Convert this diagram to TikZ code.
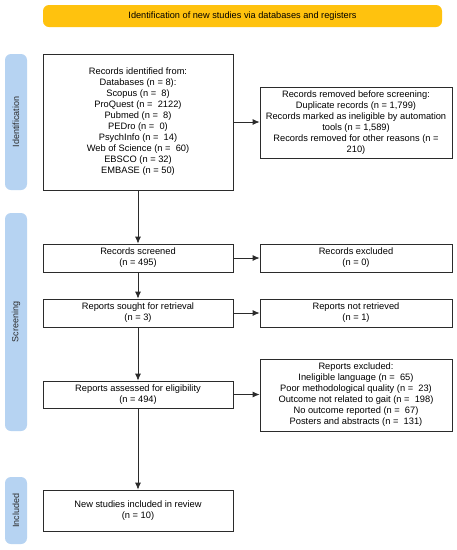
\documentclass[tikz,border=0pt]{standalone}
\usepackage{fontspec}
\setmainfont{Liberation Sans}
\usetikzlibrary{arrows.meta}
\definecolor{banner}{HTML}{FFC20E}
\definecolor{sidebar}{HTML}{B6D3F2}
\definecolor{ink}{HTML}{2B2B2B}
\begin{document}
\begin{tikzpicture}[x=1pt,y=-1pt,
  box/.style={draw=ink,line width=0.8pt,fill=white,rectangle,align=center,inner sep=2pt,
    font=\fontsize{9.3}{11}\selectfont,text=black},
  side/.style={fill=sidebar,rounded corners=6pt,rectangle,inner sep=0pt,minimum width=22pt,
    font=\fontsize{9}{10}\selectfont,text=ink},
  arr/.style={draw=ink,line width=0.8pt,-{Latex[length=7pt,width=6pt]}}]
\useasboundingbox (0,0) rectangle (457,550);
\fill[white] (0,0) rectangle (457,550);
% banner
\node[fill=banner,rounded corners=6pt,minimum width=399pt,minimum height=22pt,inner sep=0pt,
  font=\fontsize{9.2}{10}\selectfont] (ban) at (242.5,16) {Identification of new studies via databases and registers};
% side bars
\node[side,minimum height=136pt] (sid) at (16,122) {\rotatebox{90}{Identification}};
\node[side,minimum height=218pt] (sscr) at (16,322) {\rotatebox{90}{Screening}};
\node[side,minimum height=67pt] (sinc) at (16,510.5) {\rotatebox{90}{Included}};
% left column
\node[box,minimum width=190pt,minimum height=136pt] (rec) at (138,122) {Records identified from:\\Databases (n = 8):\\Scopus (n =\ \ 8)\\ProQuest (n =\ \ 2122)\\Pubmed (n =\ \ 8)\\PEDro (n =\ \ 0)\\PsychInfo (n =\ \ 14)\\Web of Science (n =\ \ 60)\\EBSCO (n = 32)\\EMBASE (n = 50)};
\node[box,minimum width=190pt,minimum height=28pt] (scr) at (138,258) {Records screened\\(n = 495)};
\node[box,minimum width=190pt,minimum height=28pt] (sou) at (138,313) {Reports sought for retrieval\\(n = 3)};
\node[box,minimum width=190pt,minimum height=27pt] (ass) at (138,394.5) {Reports assessed for eligibility\\(n = 494)};
\node[box,minimum width=190pt,minimum height=41pt] (inc) at (138,510.5) {New studies included in review\\(n = 10)};
% right column
\node[box,minimum width=192pt,minimum height=71pt] (rem) at (356,122.5) {Records removed before screening:\\Duplicate records (n = 1,799)\\Records marked as ineligible by automation\\tools (n = 1,589)\\Records removed for other reasons (n =\\210)};
\node[box,minimum width=192pt,minimum height=28pt] (exc) at (356,258) {Records excluded\\(n = 0)};
\node[box,minimum width=192pt,minimum height=28pt] (nret) at (356,313) {Reports not retrieved\\(n = 1)};
\node[box,minimum width=192pt,minimum height=72pt] (rexc) at (356,395) {Reports excluded:\\Ineligible language (n =\ \ 65)\\Poor methodological quality (n =\ \ 23)\\Outcome not related to gait (n =\ \ 198)\\No outcome reported (n =\ \ 67)\\Posters and abstracts (n =\ \ 131)};
% arrows
\draw[arr] (rec) -- (scr);
\draw[arr] (scr) -- (sou);
\draw[arr] (sou) -- (ass);
\draw[arr] (ass) -- (inc);
\draw[arr] (rec.east) -- (rem.west |- rec.east);
\draw[arr] (scr) -- (exc);
\draw[arr] (sou) -- (nret);
\draw[arr] (ass.east) -- (rexc.west |- ass.east);
\end{tikzpicture}
\end{document}
